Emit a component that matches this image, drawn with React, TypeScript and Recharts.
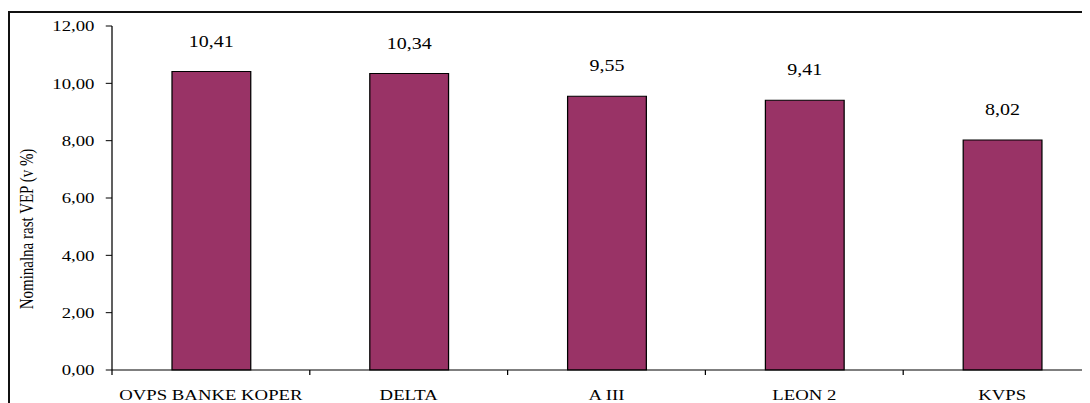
import React from 'react';
import { BarChart, Bar, XAxis, YAxis, LabelList, Label } from 'recharts';

const categories = ['OVPS BANKE KOPER', 'DELTA', 'A III', 'LEON 2', 'KVPS'];
const values = [10.41, 10.34, 9.55, 9.41, 8.02];
const yTicks = [0, 2, 4, 6, 8, 10, 12];
const yAxisTitle = 'Nominalna rast VEP (v %)';

const data = categories.map((name, i) => ({ name, value: values[i] }));
const fmt = (v: any) => Number(v).toFixed(2).replace('.', ',');

const SX = 1.25;
const FONT = '"Liberation Serif", "Times New Roman", serif';
const TICK_SIZE = 5;
const TICK_MARGIN = 14;

const renderYLabel = () => (
  <text
    x={15.5}
    y={221}
    transform="rotate(-90 15.5 221)"
    textAnchor="middle"
    dominantBaseline="central"
    fontSize={15}
    fontFamily={FONT}
    fill="#000"
  >
    {yAxisTitle}
  </text>
);

// Category tick: label at band centre, tick mark at the band's left edge
const CategoryTick = (props: any) => {
  const { x, y, payload } = props;
  const half = payload && typeof payload.offset === 'number' ? payload.offset : 0;
  const axisY = y - TICK_SIZE - TICK_MARGIN;
  const edgeX = x - half;
  return (
    <g>
      {half > 0 && <line x1={edgeX} x2={edgeX} y1={axisY} y2={axisY + TICK_SIZE} stroke="#000" strokeWidth={1} />}
      <text x={x} y={y} dy="0.71em" textAnchor="middle" fontSize={15} fontFamily={FONT} fill="#000">
        {payload.value}
      </text>
    </g>
  );
};

export default function App() {
  return (
    <div style={{ position: 'relative', width: 1082, height: 395, overflow: 'hidden', background: '#fff' }}>
      <div
        style={{
          position: 'absolute',
          left: 0,
          top: 3,
          width: 2000,
          height: 2000,
          borderLeft: '2px solid #111',
          borderTop: '2px solid #111',
          boxSizing: 'border-box',
        }}
      />
      <div style={{ position: 'absolute', left: 0, top: 0, transform: `scaleX(${SX})`, transformOrigin: '0 0' }}>
        <BarChart
          width={880}
          height={395}
          data={data}
          margin={{ top: 18, right: 5.6, bottom: 0, left: 0 }}
          barSize={63}
        >
          <XAxis
            dataKey="name"
            height={33}
            interval={0}
            tickSize={TICK_SIZE}
            tickMargin={TICK_MARGIN}
            axisLine={{ stroke: '#000' }}
            tickLine={false}
            tick={<CategoryTick />}
          />
          <YAxis
            type="number"
            domain={[0, 12]}
            ticks={yTicks}
            width={83.2}
            tickSize={5}
            tickMargin={9}
            tickFormatter={fmt}
            axisLine={{ stroke: '#000' }}
            tickLine={{ stroke: '#000' }}
            tick={{ fill: '#000', fontSize: 15, fontFamily: FONT }}
          >
            <Label content={renderYLabel} />
          </YAxis>
          <Bar dataKey="value" fill="#993366" stroke="#000" strokeWidth={1} isAnimationActive={false}>
            <LabelList
              dataKey="value"
              position="top"
              offset={25}
              formatter={fmt}
              fill="#000"
              fontSize={16}
              fontFamily={FONT}
            />
          </Bar>
        </BarChart>
      </div>
    </div>
  );
}
